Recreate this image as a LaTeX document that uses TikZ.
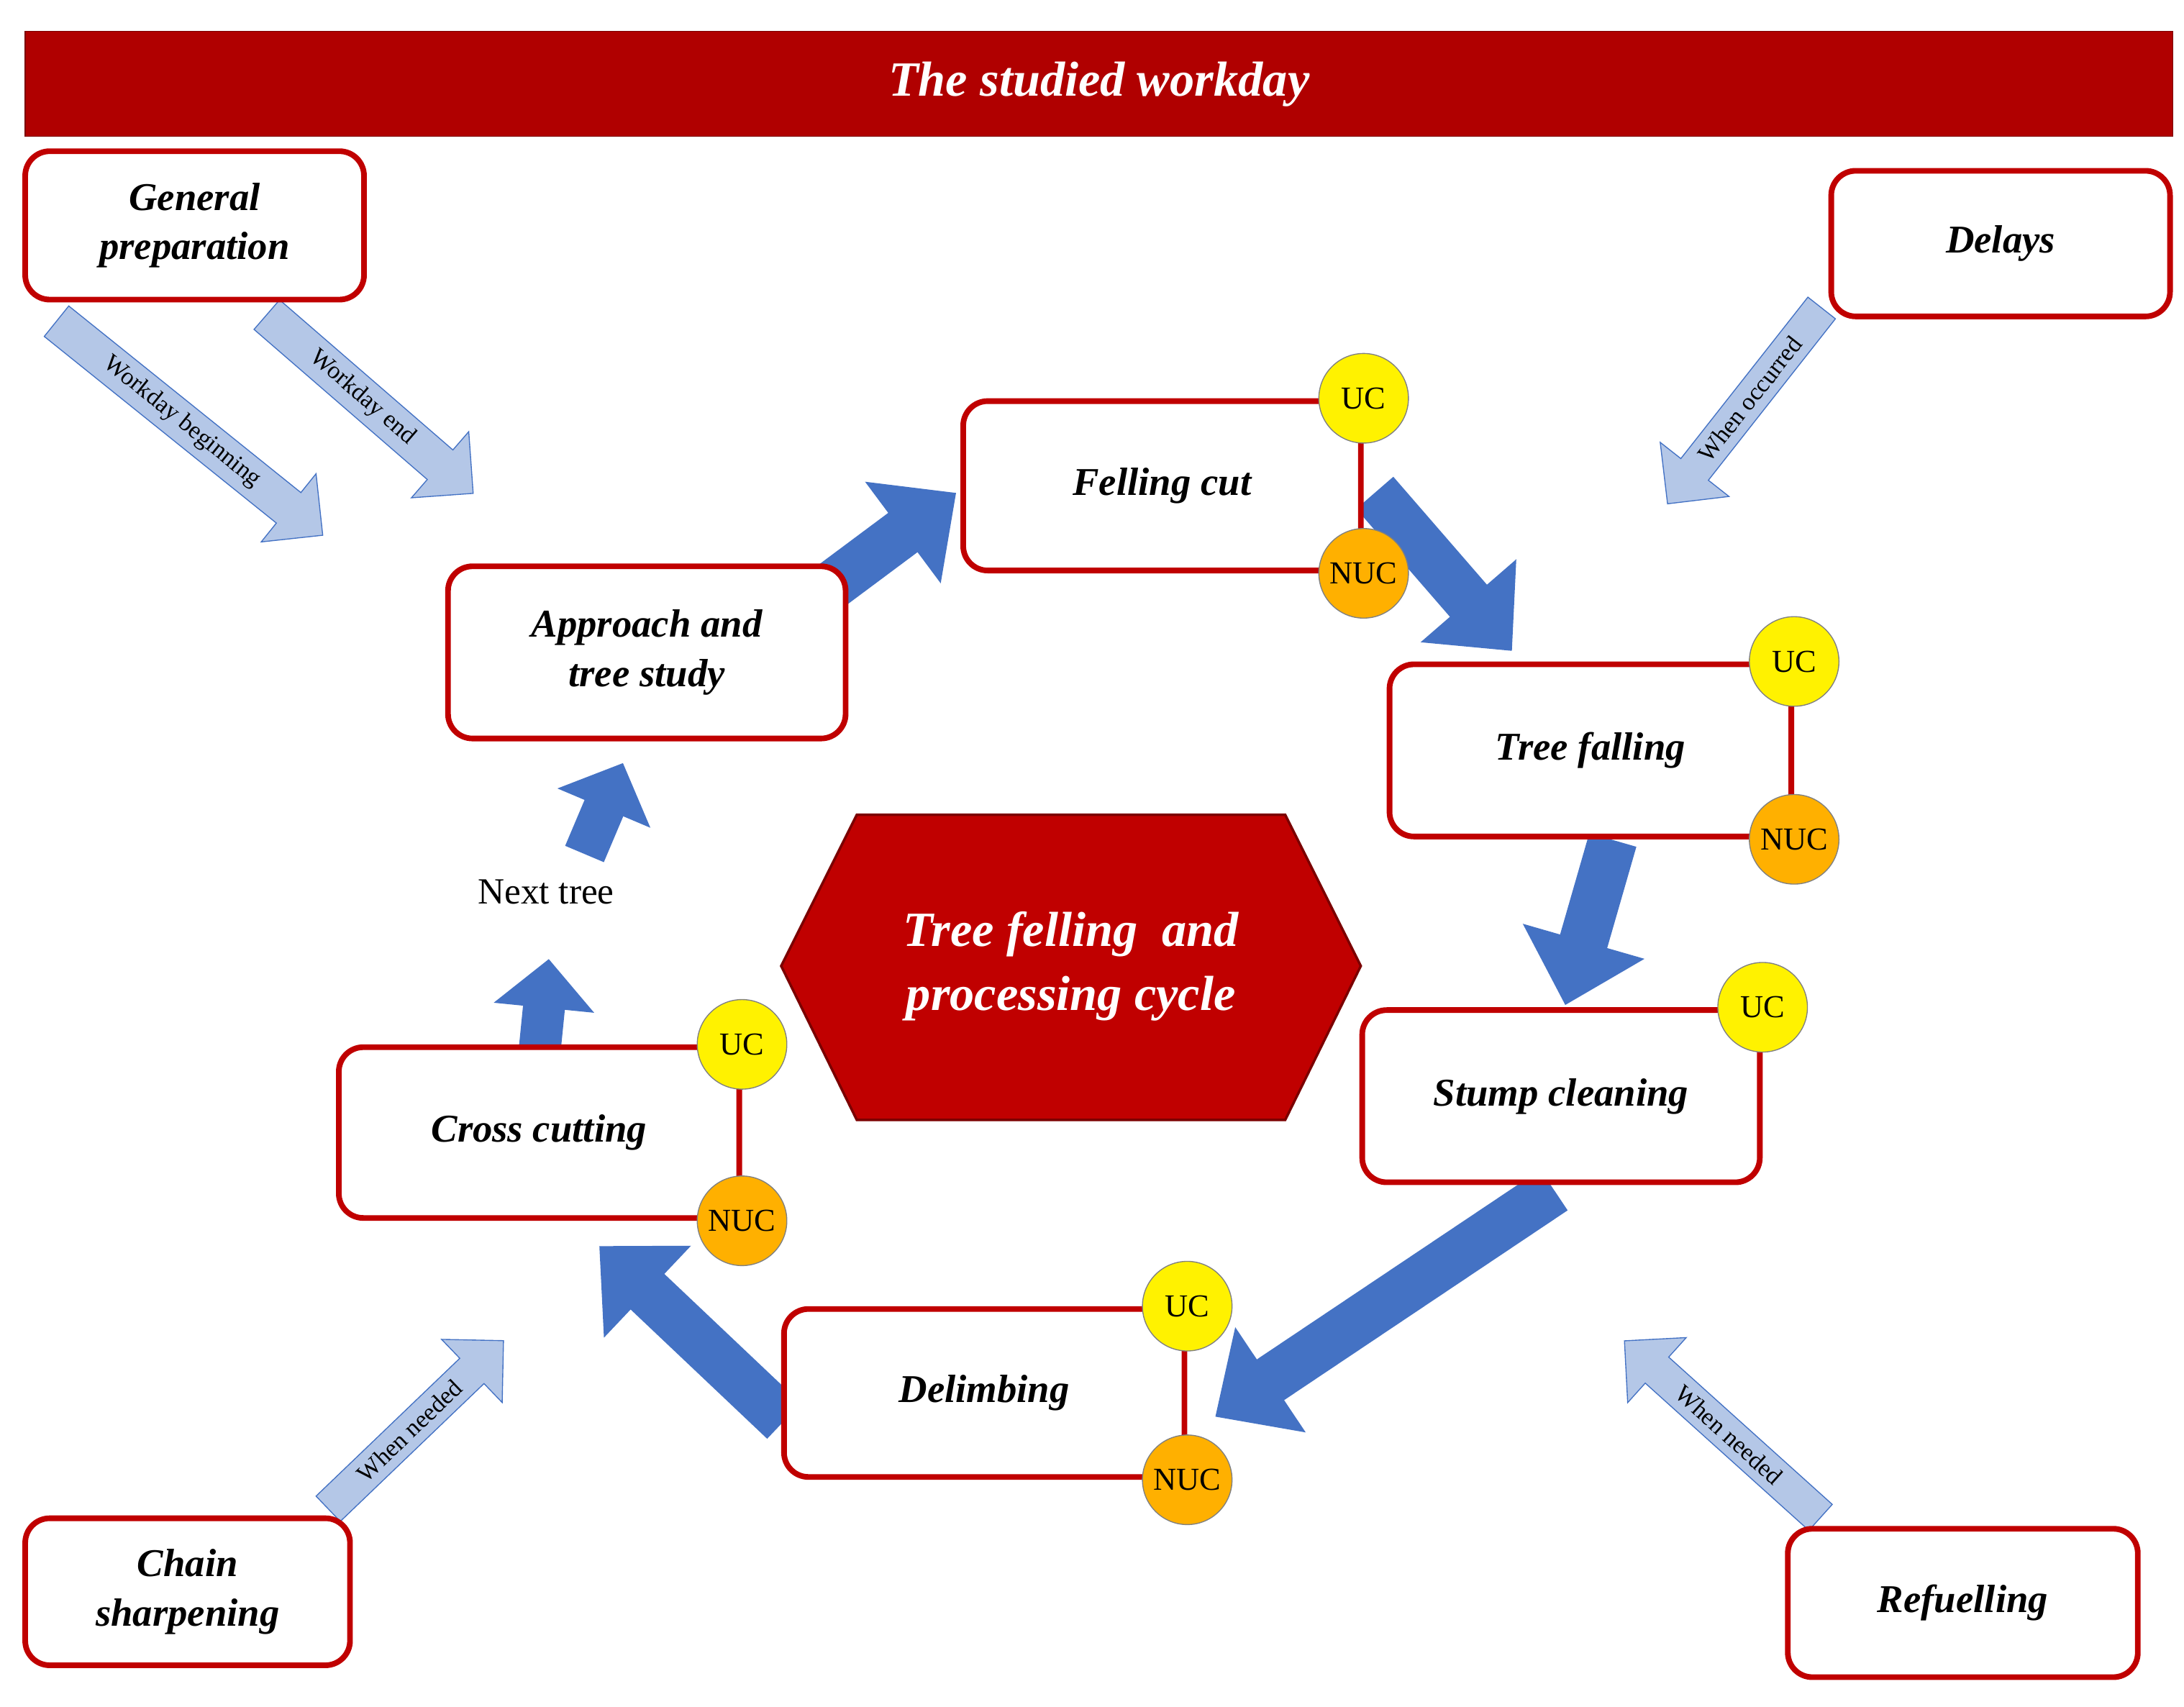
\documentclass[tikz,border=0pt]{standalone}
\usepackage{fontspec}
\setmainfont{Liberation Serif}
\usetikzlibrary{arrows.meta,shapes.arrows,calc}
\definecolor{darkred}{HTML}{B00000}
\definecolor{boxred}{HTML}{C00000}
\definecolor{bigblue}{HTML}{4472C4}
\definecolor{lightblue}{HTML}{B4C7E7}
\definecolor{nucorange}{HTML}{FFB000}
\begin{document}
\begin{tikzpicture}
  \tikzset{task/.style = {draw=boxred, line width=2.3pt, rounded corners=0.35cm, fill=white,
      align=center, font=\fontsize{16}{20}\selectfont\bfseries\itshape}}
  \tikzset{uc/.style = {circle, draw=gray, fill=yellow, minimum size=1.28cm, inner sep=0pt,
      font=\fontsize{13}{15}\selectfont}}
  \tikzset{nuc/.style = {uc, fill=nucorange}}
  \tikzset{flow/.style = {draw=bigblue, line width=0.7cm, -{Triangle[length=0.95cm,width=1.75cm]}}}
  \tikzset{flowshort/.style = {draw=bigblue, line width=0.6cm, -{Triangle[length=0.7cm,width=1.4cm]}}}
  \tikzset{hint/.style = {single arrow, draw=bigblue, fill=lightblue, thin, minimum width=1.25cm,
      single arrow head extend=0.25cm, inner sep=1pt, font=\fontsize{10}{12}\selectfont}}

\useasboundingbox (0,0) rectangle (31.2,-24.38);

% title bar
\node[fill=darkred, draw=darkred!70!black, minimum width=30.68cm, minimum height=1.5cm,
  text=white, font=\fontsize{20}{24}\selectfont\bfseries\itshape] (title) at (15.7,-1.2) {The studied workday};

% cycle centre
\draw[fill=boxred, draw=darkred!70!black, line width=1pt]
  (11.16,-13.8) -- (12.24,-11.64) -- (18.36,-11.64) -- (19.44,-13.8) -- (18.36,-16) -- (12.24,-16) -- cycle;
\node[text=white, align=center, font=\fontsize{20}{26}\selectfont\bfseries\itshape] (cycle) at (15.3,-13.8)
  {Tree felling\ \ and\\processing cycle};

% hint arrows
\node[hint, rotate=-38.8, minimum height=4.88cm] (wb) at (2.6,-6.03) {Workday beginning};
\node[hint, rotate=-40.9, minimum height=3.9cm] (we) at (5.18,-5.68) {Workday end};
\node[hint, shape border rotate=180, rotate=51.8, minimum height=3.56cm] (wo) at (25,-5.7) {When occurred};
\node[hint, rotate=43.8, minimum height=3.47cm] (wnl) at (5.85,-20.44) {When needed};
\node[hint, shape border rotate=180, rotate=-42, minimum height=3.77cm] (wnr) at (24.7,-20.5) {When needed};

% cycle arrows
\coordinate (a1) at (11.7,-8.5);  \coordinate (b1) at (13.66,-7.04);
\coordinate (a2) at (19.64,-7.04); \coordinate (b2) at (21.6,-9.3);
\coordinate (a3) at (23.04,-12);  \coordinate (b3) at (22.36,-14.36);
\coordinate (a4) at (22.2,-17);   \coordinate (b4) at (17.36,-20.24);
\coordinate (a5) at (11.2,-20.3); \coordinate (b5) at (8.56,-17.8);
\coordinate (a6) at (7.7,-15.1); \coordinate (b6) at (7.84,-13.7);
\coordinate (a7) at (8.35,-12.2);  \coordinate (b7) at (8.9,-10.9);
\draw[flow] (a1) -- (b1);
\draw[flow] (a2) -- (b2);
\draw[flow] (a3) -- (b3);
\draw[flow] (a4) -- (b4);
\draw[flow] (a5) -- (b5);
\draw[flowshort] (a6) -- (b6);
\draw[flowshort] (a7) -- (b7);
\node[font=\fontsize{15}{18}\selectfont] (next) at (7.8,-12.74) {Next tree};

% boxes
\node[task, minimum width=4.84cm, minimum height=2.12cm] (prep) at (2.78,-3.22) {General\\preparation};
\node[task, minimum width=4.84cm, minimum height=2.08cm] (delays) at (28.58,-3.48) {Delays};
\node[task, minimum width=5.68cm, minimum height=2.42cm] (fell) at (16.6,-6.94) {Felling cut};
\node[task, minimum width=5.68cm, minimum height=2.46cm] (appr) at (9.24,-9.32) {Approach and\\tree study};
\node[task, minimum width=5.74cm, minimum height=2.46cm] (fall) at (22.72,-10.72) {Tree falling};
\node[task, minimum width=5.68cm, minimum height=2.46cm] (stump) at (22.3,-15.66) {Stump cleaning};
\node[task, minimum width=5.72cm, minimum height=2.44cm] (cross) at (7.7,-16.18) {Cross cutting};
\node[task, minimum width=5.72cm, minimum height=2.4cm] (delimb) at (14.06,-19.9) {Delimbing};
\node[task, minimum width=4.64cm, minimum height=2.1cm] (chain) at (2.68,-22.74) {Chain\\sharpening};
\node[task, minimum width=5.0cm, minimum height=2.12cm] (refuel) at (28.04,-22.9) {Refuelling};

% UC / NUC markers
\node[uc] (fellU) at (fell.north east) {UC};
\node[nuc] (fellN) at (fell.south east) {NUC};
\node[uc] (fallU) at (fall.north east) {UC};
\node[nuc] (fallN) at (fall.south east) {NUC};
\node[uc] (stumpU) at (stump.north east) {UC};
\node[uc] (crossU) at (cross.north east) {UC};
\node[nuc] (crossN) at (cross.south east) {NUC};
\node[uc] (delimbU) at (delimb.north east) {UC};
\node[nuc] (delimbN) at (delimb.south east) {NUC};
\end{tikzpicture}
\end{document}
